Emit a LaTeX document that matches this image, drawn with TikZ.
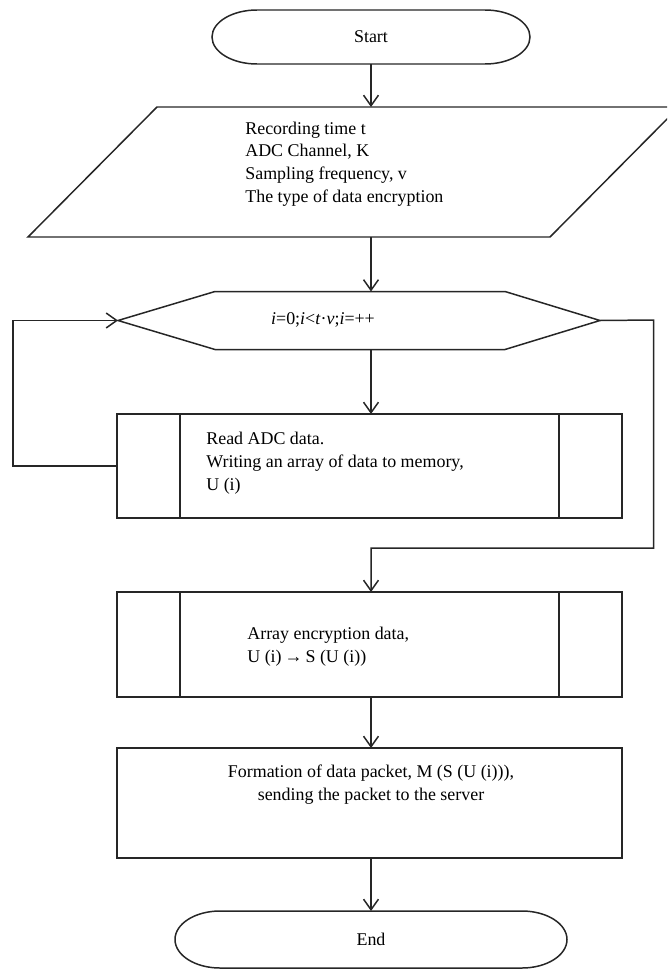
\documentclass[tikz,border=0pt]{standalone}
\usepackage{fontspec}
\setmainfont{Liberation Serif}
\usetikzlibrary{arrows.meta, calc}

\begin{document}
\begin{tikzpicture}[x=0.02cm, y=-0.02cm,
    ln/.style={line width=0.85pt, black!85},
    arr/.style={ln, -{Straight Barb[length=6pt, width=8.5pt, line width=0.85pt]}},
    shapebox/.style={inner sep=0pt, outer sep=0pt},
    txt/.style={font=\fontsize{10.2}{13}\selectfont, align=left, inner sep=0pt}]

% --- Configuration ---
\def\pxu{0.02cm}
\def\capx{45}   % horizontal radius of the terminal caps

\useasboundingbox (0,0) rectangle (667,970);
\clip (0,0) rectangle (667,970);

% --- Main axis of the chart ---
\coordinate (axis) at (371,0);

% --- Start ---
\node[shapebox, minimum width=318*\pxu, minimum height=54*\pxu] (start) at (371,37) {};
\draw[ln] ([xshift=\capx*\pxu]start.north west) -- ([xshift=-\capx*\pxu]start.north east)
  arc[start angle=90, end angle=-90, x radius=\capx*\pxu, y radius=27*\pxu]
  -- ([xshift=\capx*\pxu]start.south west)
  arc[start angle=270, end angle=90, x radius=\capx*\pxu, y radius=27*\pxu] -- cycle;
\node[txt] (starttxt) at (start) {Start};

% --- Input data (parallelogram) ---
\node[shapebox, minimum width=522*\pxu, minimum height=130*\pxu] (input) at (353.5,172) {};
\draw[ln] ([xshift=-64.5*\pxu]input.south west) -- ([xshift=-64.5*\pxu]input.south east)
  -- ([xshift=64.5*\pxu]input.north east) -- ([xshift=64.5*\pxu]input.north west) -- cycle;
\node[txt, anchor=west] (inputtxt) at (245,164)
  {Recording time t\\ADC Channel, K\\Sampling frequency, v\\The type of data encryption};

% --- Loop (hexagon) ---
\node[shapebox, minimum width=290*\pxu, minimum height=58*\pxu] (loop) at (360,320.5) {};
\coordinate (loopL) at ([xshift=-97*\pxu]loop.west);
\coordinate (loopR) at ([xshift=95*\pxu]loop.east);
\draw[ln] (loop.north west) -- (loop.north east) -- (loopR)
  -- (loop.south east) -- (loop.south west) -- (loopL) -- cycle;
\node[txt] (looptxt) at (323,320)
  {\textit{i}=0;\textit{i}<\textit{t}·\textit{v};\textit{i}=++};

% --- Read ADC data (predefined process) ---
\node[shapebox, draw, ln, minimum width=505*\pxu, minimum height=104*\pxu] (read) at (369.5,466) {};
\draw[ln] ([xshift=63*\pxu]read.north west) -- ([xshift=63*\pxu]read.south west);
\draw[ln] ([xshift=-63*\pxu]read.north east) -- ([xshift=-63*\pxu]read.south east);
\node[txt, anchor=west] (readtxt) at (206,463)
  {Read ADC data.\\Writing an array of data to memory,\\U (i)};

% --- Encryption (predefined process) ---
\node[shapebox, draw, ln, minimum width=505*\pxu, minimum height=105*\pxu] (enc) at (369.5,644.5) {};
\draw[ln] ([xshift=63*\pxu]enc.north west) -- ([xshift=63*\pxu]enc.south west);
\draw[ln] ([xshift=-63*\pxu]enc.north east) -- ([xshift=-63*\pxu]enc.south east);
\node[txt, anchor=west] (enctxt) at (247,647)
  {Array encryption data,\\U (i)\,→\,S (U (i))};

% --- Packet ---
\node[shapebox, draw, ln, minimum width=505*\pxu, minimum height=110*\pxu] (pack) at (369.5,803) {};
\node[txt, align=center] (packtxt) at (371,785)
  {Formation of data packet, M (S (U (i))),\\sending the packet to the server};

% --- End ---
\node[shapebox, minimum width=392*\pxu, minimum height=57*\pxu] (end) at (371,939.5) {};
\draw[ln] ([xshift=\capx*\pxu]end.north west) -- ([xshift=-\capx*\pxu]end.north east)
  arc[start angle=90, end angle=-90, x radius=\capx*\pxu, y radius=28.5*\pxu]
  -- ([xshift=\capx*\pxu]end.south west)
  arc[start angle=270, end angle=90, x radius=\capx*\pxu, y radius=28.5*\pxu] -- cycle;
\node[txt] (endtxt) at (end) {End};

% --- Connectors ---
\draw[arr] (start.south -| axis) -- (input.north -| axis);
\draw[arr] (input.south -| axis) -- (loop.north -| axis);
\draw[arr] (loop.south -| axis) -- (read.north -| axis);
\draw[arr] (enc.south -| axis) -- (pack.north -| axis);
\draw[arr] (pack.south -| axis) -- (end.north -| axis);

% loop back and exit
\draw[arr] (read.west) -- (13,466) |- (loopL);
\draw[arr] (loopR) -- (653.5,320) -- (653.5,548) -| (enc.north -| axis);

\end{tikzpicture}
\end{document}
